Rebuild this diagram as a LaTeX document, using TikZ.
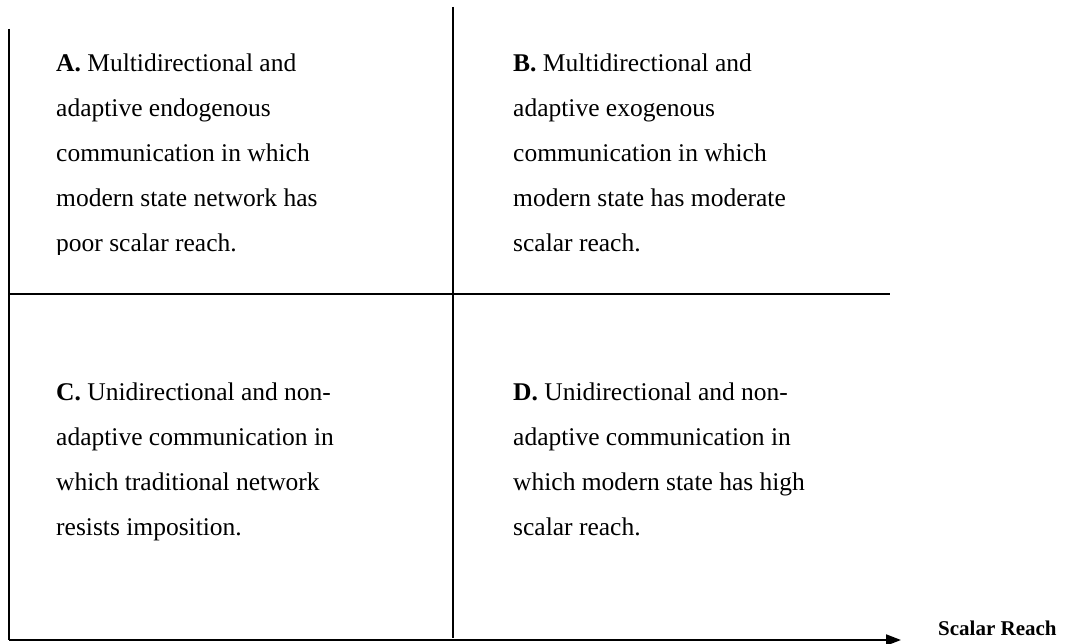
\documentclass[tikz,border=0pt]{standalone}
\usepackage{fontspec}
\setmainfont{Liberation Serif}
\usetikzlibrary{arrows.meta}

\tikzset{
  axisline/.style={line width=2pt, black},
  % multi-line cells are placed by the baseline of their last line
  cell/.style={anchor=base west, inner sep=0pt, align=left,
    font=\fontsize{25.5}{45}\selectfont},
  axislabel/.style={anchor=base west, inner sep=0pt,
    font=\fontsize{21}{25}\selectfont\bfseries}
}

\begin{document}
\begin{tikzpicture}[x=1pt, y=-1pt]
  \useasboundingbox[fill=white] (0,0) rectangle (1069,644);

  % frame coordinates
  \coordinate (lefttop) at (9,29);
  \coordinate (origin) at (9,640);
  \coordinate (axisend) at (901,640);
  \coordinate (midtop) at (453,7);
  \coordinate (midbot) at (453,638);
  \coordinate (hleft) at (9,294);
  \coordinate (hright) at (890,294);

  % quadrant texts
  \begin{scope}
    \clip (0,0) rectangle (453,255);
    \node[cell] (qa) at (56,251.5) {\textbf{A.} Multidirectional and\\adaptive endogenous\\communication in which\\modern state network has\\poor scalar reach.};
  \end{scope}
  \node[cell] (qb) at (513,251.5) {\textbf{B.} Multidirectional and\\adaptive exogenous\\communication in which\\modern state has moderate\\scalar reach.};
  \node[cell] (qc) at (56,535) {\textbf{C.} Unidirectional and non-\\adaptive communication in\\which traditional network\\resists imposition.};
  \node[cell] (qd) at (513,535) {\textbf{D.} Unidirectional and non-\\adaptive communication in\\which modern state has high\\scalar reach.};

  % axes and dividers
  \draw[axisline] (lefttop) -- (origin);
  \draw[axisline, -{Triangle[length=15pt,width=11pt]}] (origin) -- (axisend);
  \draw[axisline] (midtop) -- (midbot);
  \draw[axisline] (hleft) -- (hright);

  \node[axislabel] (xlabel) at (938,635) {Scalar Reach};
\end{tikzpicture}
\end{document}
